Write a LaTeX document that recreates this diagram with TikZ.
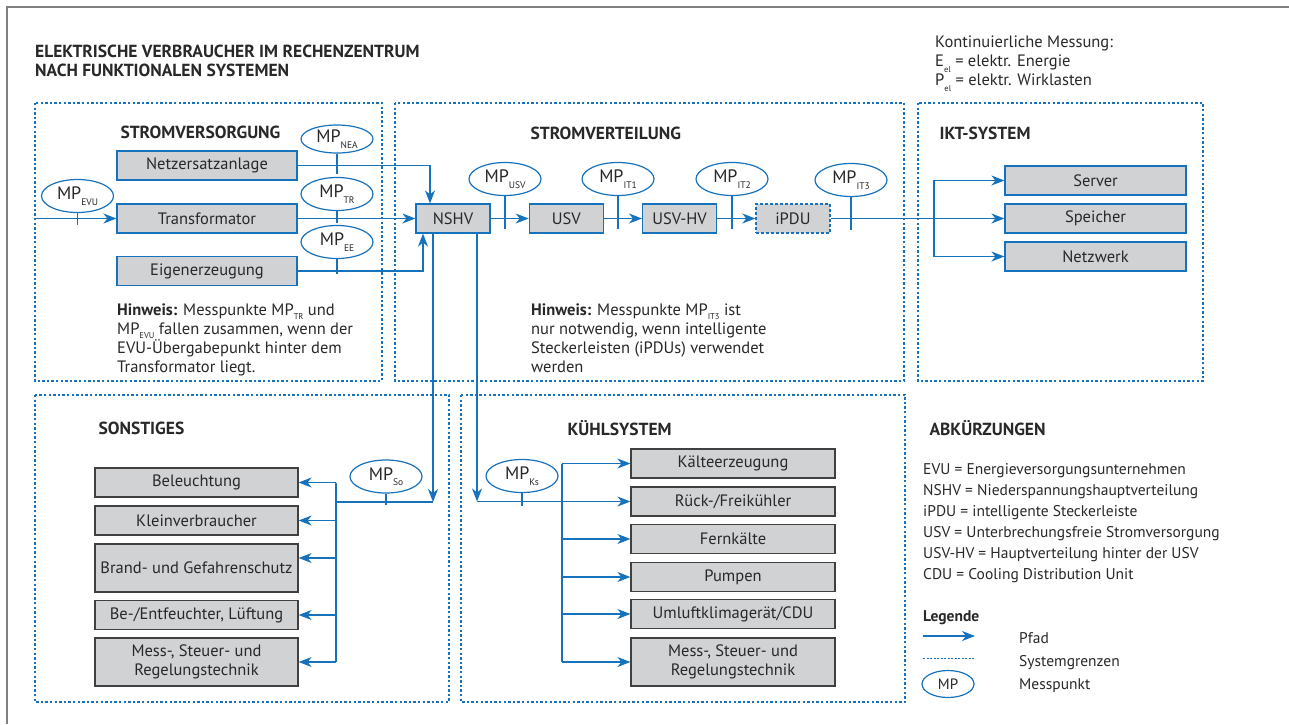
\documentclass[tikz,border=0pt]{standalone}
\usepackage{fontspec}
\setmainfont{PT Sans}
\usetikzlibrary{positioning, arrows.meta, shapes.geometric}
\definecolor{rzblau}{RGB}{22,114,188}
\definecolor{rzgrau}{RGB}{209,210,212}
\definecolor{rztext}{RGB}{40,40,40}
\newcommand\messp[2][9.5]{MP\raisebox{-0.6ex}{\fontsize{#1}{#1}\selectfont #2}}
\newcommand\idx[1]{\raisebox{-0.8ex}{\fontsize{8.5}{8.5}\selectfont #1}}

\begin{document}
\begin{tikzpicture}[x=1pt, y=-1pt, node distance=113.3pt, on grid,
  font=\fontsize{16.5}{19}\selectfont, text=rztext,
  box/.style={draw=rzblau, fill=rzgrau, line width=1.2pt, minimum height=29pt, inner sep=0pt},
  dbox/.style={draw=black!75, fill=rzgrau, line width=1.2pt, minimum height=29pt, align=center, inner sep=0pt},
  mp/.style={ellipse, draw=rzblau, fill=white, line width=1.2pt, minimum width=72pt, minimum height=33pt, inner sep=0pt, font=\fontsize{18}{18}\selectfont},
  grenze/.style={draw=rzblau, line width=2.6pt, dash pattern=on 2.4pt off 2.2pt},
  pfad/.style={draw=rzblau, line width=1.3pt},
  pfeil/.style={pfad, -{Stealth[length=13pt, width=10pt, inset=4pt]}},
  titel/.style={font=\fontsize{17.5}{19}\selectfont\bfseries, anchor=west},
  legtext/.style={anchor=west, inner sep=0pt, font=\fontsize{15.5}{19}\selectfont},
  tick/.style={draw=rzblau, line width=1.3pt}]
  \useasboundingbox (0,0) rectangle (1289,724);
  \draw[gray, line width=1.5pt] (7,724) -- (7,7) -- (1289,7);

  % Ueberschrift und Messung (base = letzte Zeile)
  \node[anchor=base west, align=left, inner sep=0pt, font=\fontsize{17.5}{19}\selectfont\bfseries] (kopf) at (35,76)
    {ELEKTRISCHE VERBRAUCHER IM RECHENZENTRUM\\NACH FUNKTIONALEN SYSTEMEN};
  \node[anchor=base west, align=left, inner sep=0pt, font=\fontsize{16.5}{19}\selectfont] (messung) at (935,85)
    {Kontinuierliche Messung:\\E\idx{el} = elektr. Energie\\P\idx{el} = elektr. Wirklasten};

  % Systemgrenzen
  \draw[grenze] (35,103) rectangle (382,381);
  \draw[grenze] (395,103) rectangle (904,381);
  \draw[grenze] (918,103) rectangle (1203,381);
  \draw[grenze] (35,395) rectangle (449,702);
  \draw[grenze] (461,395) rectangle (905,702);

  % Stromversorgung
  \node[titel] at (117,132) {STROMVERSORGUNG};
  \node[box, minimum width=180pt] (nea) at (207,165.5) {Netzersatzanlage};
  \node[box, minimum width=180pt] (trafo) at (207,218.5) {Transformator};
  \node[box, minimum width=180pt] (eigen) at (207,271) {Eigenerzeugung};
  \node[anchor=base west, align=left, inner sep=0pt] (hinweis1) at (117,372)
    {\textbf{Hinweis:} Messpunkte \messp[8.5]{TR} und\\\messp[8.5]{EVU} fallen zusammen, wenn der\\EVU-Übergabepunkt hinter dem\\Transformator liegt.};

  % Stromverteilung
  \node[titel] at (527,133) {STROMVERTEILUNG};
  \node[box, minimum width=74pt] (nshv) at (453,218.5) {NSHV};
  \node[box, minimum width=74pt] (usv) [right=of nshv] {USV};
  \node[box, minimum width=74pt] (usvhv) [right=of usv] {USV-HV};
  \node[box, minimum width=74pt, dash pattern=on 3pt off 2pt] (ipdu) [right=of usvhv] {iPDU};
  \node[anchor=base west, align=left, inner sep=0pt] (hinweis2) at (531,372)
    {\textbf{Hinweis:} Messpunkte \messp[8.5]{IT3} ist\\nur notwendig, wenn intelligente\\Steckerleisten (iPDUs) verwendet\\werden};

  % IKT-System
  \node[titel] at (936,133) {IKT-SYSTEM};
  \node[box, minimum width=181pt] (server) at (1095.5,180.5) {Server};
  \node[box, minimum width=181pt] (speicher) [below=38pt of server] {Speicher};
  \node[box, minimum width=181pt] (netz) [below=38pt of speicher] {Netzwerk};

  % Pfade oben
  \coordinate (ein) at (35,218.5);
  \coordinate (verz) at (934,218.5);
  \draw[pfeil] (ein) -- (trafo);
  \draw[pfeil] (trafo) -- (nshv);
  \draw[pfeil] (nea.east) -| ([xshift=-23pt]nshv.north);
  \draw[pfeil] (eigen.east) -| ([xshift=-30pt]nshv.south);
  \draw[pfeil] (nshv) -- (usv);
  \draw[pfeil] (usv) -- (usvhv);
  \draw[pfeil] (usvhv) -- (ipdu);
  \draw[pfeil] (ipdu) -- (speicher);
  \draw[pfeil] (verz) |- (server);
  \draw[pfeil] (verz) |- (netz);

  % Messpunkte oben
  \node[mp] (mpevu) at (77.5,196) {\messp{EVU}};
  \node[mp, minimum height=28pt] (mpnea) at (337,139) {\messp{NEA}};
  \node[mp] (mptr) at (337,194) {\messp{TR}};
  \node[mp] (mpee) at (337,242) {\messp{EE}};
  \node[mp] (mpusv) at (505,179) {\messp{USV}};
  \node[mp] (mpit1) at (618,179) {\messp{IT1}};
  \node[mp] (mpit2) at (732,179) {\messp{IT2}};
  \node[mp] (mpit3) at (851,180) {\messp{IT3}};
  \draw[tick] (mpevu.south) -- ++(0,12);
  \draw[tick] (mpnea.south) -- ++(0,20);
  \draw[tick] (mptr.south) -- ++(0,12);
  \draw[tick] (mpee.south) -- ++(0,15);
  \foreach \m in {mpusv, mpit1, mpit2, mpit3}
    \draw[tick] (\m.south) -- ++(0,33);

  % Sonstiges
  \node[titel] at (95,428) {SONSTIGES};
  \node[dbox, minimum width=203pt] (bel) at (196.5,482.5) {Beleuchtung};
  \node[dbox, minimum width=203pt] (klein) at (196.5,520.5) {Kleinverbraucher};
  \node[dbox, minimum width=203pt, minimum height=48pt] (brand) at (196.5,568) {Brand- und Gefahrenschutz};
  \node[dbox, minimum width=203pt] (lueft) at (196.5,615) {Be-/Entfeuchter, Lüftung};
  \node[dbox, minimum width=203pt, minimum height=48pt] (somsr) at (196.5,662) {Mess-, Steuer- und\\Regelungstechnik};
  \coordinate (so) at (433,502);
  \coordinate (sobus) at (336,502);
  \coordinate (brandein) at ([yshift=10pt]brand.east);
  \draw[pfeil] ([xshift=-20pt]nshv.south) -- (so);
  \draw[pfad] (so) -- (sobus);
  \draw[pfad] (sobus |- bel.east) -- (sobus |- somsr.east);
  \foreach \n in {bel, klein, lueft, somsr}
    \draw[pfeil] (sobus |- \n.east) -- (\n.east);
  \draw[pfeil] (sobus |- brandein) -- (brandein);
  \node[mp] (mpso) at (386,476.5) {\messp{So}};
  \draw[tick] (mpso.south) -- ++(0,11);

  % Kuehlsystem
  \node[titel] at (564,428) {KÜHLSYSTEM};
  \node[dbox, minimum width=204pt] (kaelte) at (733,463.5) {Kälteerzeugung};
  \node[dbox, minimum width=204pt] (rueck) at (733,501.5) {Rück-/Freikühler};
  \node[dbox, minimum width=204pt] (fern) at (733,539) {Fernkälte};
  \node[dbox, minimum width=204pt] (pumpen) at (733,577) {Pumpen};
  \node[dbox, minimum width=204pt] (umluft) at (733,614) {Umluftklimagerät/CDU};
  \node[dbox, minimum width=204pt, minimum height=48pt] (kmsr) at (733,662) {Mess-, Steuer- und\\Regelungstechnik};
  \coordinate (ks) at (477,501.5);
  \coordinate (ksbus) at (562,501.5);
  \draw[pfeil] ([xshift=24pt]nshv.south) -- (ks);
  \draw[pfeil] (ks) -- (rueck);
  \draw[pfad] (ksbus |- kaelte.west) -- (ksbus |- kmsr.west);
  \foreach \n in {kaelte, fern, pumpen, umluft, kmsr}
    \draw[pfeil] (ksbus |- \n.west) -- (\n.west);
  \node[mp] (mpks) at (522,476) {\messp{Ks}};
  \draw[tick] (mpks.south) -- ++(0,13);

  % Abkuerzungen und Legende
  \node[titel] at (926,428) {ABKÜRZUNGEN};
  \node[anchor=base west, align=left, inner sep=0pt, font=\fontsize{15.5}{21}\selectfont] (abk) at (923,579)
    {EVU = Energieversorgungsunternehmen\\NSHV = Niederspannungshauptverteilung\\iPDU = intelligente Steckerleiste\\USV = Unterbrechungsfreie Stromversorgung\\USV-HV = Hauptverteilung hinter der USV\\CDU = Cooling Distribution Unit};
  \node[anchor=west, inner sep=0pt, font=\fontsize{15.5}{19}\selectfont\bfseries] (legende) at (923,618) {Legende};
  \coordinate (lga) at (923,636);
  \coordinate (lgb) at (975,636);
  \coordinate (lgc) at (923,658);
  \coordinate (lgd) at (975,658);
  \draw[pfeil] (lga) -- (lgb);
  \draw[rzblau, line width=1pt, dash pattern=on 2pt off 1.5pt] (lgc) -- (lgd);
  \node[mp, minimum width=52pt, minimum height=27pt, font=\fontsize{15}{15}\selectfont] (lgmp) at (948,684) {MP};
  \node[legtext] (lpfad) at (1019,638) {Pfad};
  \node[legtext] (lgrenze) at (1019,663) {Systemgrenzen};
  \node[legtext] (lmp) at (1019,686) {Messpunkt};
\end{tikzpicture}
\end{document}
